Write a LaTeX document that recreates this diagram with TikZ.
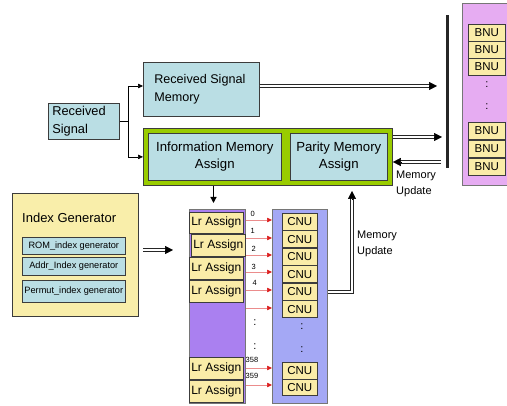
\documentclass[tikz,border=0pt]{standalone}
\usepackage{fontspec}
\setmainfont{Liberation Sans}
\usetikzlibrary{arrows.meta,calc}
\definecolor{lblue}{RGB}{186,222,228}
\definecolor{lgreen}{RGB}{153,204,0}
\definecolor{lyel}{RGB}{249,238,170}
\definecolor{byel}{RGB}{250,236,168}
\definecolor{lrpurp}{RGB}{170,128,240}
\definecolor{cnublue}{RGB}{164,168,245}
\definecolor{bnupink}{RGB}{230,172,242}
\definecolor{pinkline}{RGB}{235,140,140}
\definecolor{arrred}{RGB}{220,30,30}
\definecolor{edge}{RGB}{60,60,60}
\newcommand{\dbarr}[2]{\draw[dbl, shorten >=6pt] #1 -- #2; \draw[dtip] ($#2!8pt!#1$) -- #2;}
\begin{document}
\begin{tikzpicture}[x=1pt,y=-1pt,
  box/.style={draw=edge, line width=0.6pt, fill=lblue, inner sep=0pt, anchor=north west},
  ybox/.style={draw=edge, line width=0.6pt, fill=byel, inner sep=0pt, anchor=north west},
  panel/.style={draw=edge!70, line width=0.6pt, inner sep=0pt, anchor=north west},
  dbl/.style={draw=black!85, double=white, double distance=2.2pt, line width=1pt},
  dtip/.style={line width=0.5pt, -{Triangle[length=8pt,width=8pt]}},
  thin/.style={draw=black, line width=0.6pt},
  thintip/.style={thin, -{Triangle[length=5pt,width=4.5pt]}},
  redarr/.style={draw=pinkline, line width=0.5pt, -{Triangle[length=5pt,width=4.5pt,color=arrred]}},
  lbl/.style={font=\fontsize{7.5}{8}\selectfont, inner sep=0pt, anchor=west},
  dots/.style={font=\fontsize{11}{11}\selectfont, inner sep=0pt},
  lrbox/.style={ybox, minimum width=54, font=\fontsize{12}{14}\selectfont},
  cnubox/.style={ybox, minimum width=35, minimum height=17, font=\fontsize{11.5}{13}\selectfont},
  bnubox/.style={ybox, minimum width=37, minimum height=17, font=\fontsize{11.5}{13}\selectfont},
  ibox/.style={box, minimum width=103, font=\fontsize{9.2}{10}\selectfont}
]
\useasboundingbox (0,0) rectangle (507,406);

% top part
\node[box, minimum width=71, minimum height=36, text width=63, align=flush left,
      font=\fontsize{12.8}{18}\selectfont] (rs) at (48,103) {Received\\Signal};
\node[box, minimum width=116, minimum height=54, text width=94, align=flush left,
      font=\fontsize{12.6}{18}\selectfont] (rsm) at (143,62) {Received Signal\\Memory};
\node[panel, draw=edge, line width=0.8pt, fill=lgreen, minimum width=249, minimum height=57] (grn) at (143,128) {};
\node[box, minimum width=133, minimum height=47, align=center,
      font=\fontsize{13.2}{17}\selectfont] (ima) at (148,133) {Information Memory\\Assign};
\node[box, minimum width=97, minimum height=47, align=center,
      font=\fontsize{13.2}{17}\selectfont] (pma) at (290,133) {Parity Memory\\Assign};

\coordinate (sp) at (128,121);
\draw[thin] (rs.east |- sp) -- (sp);
\draw[thintip] (sp) |- (rsm.west |- 0,86);
\draw[thintip] (sp) |- (grn.west);

\node[fill=black!85, minimum width=3, minimum height=153, inner sep=0pt, anchor=north] (bar) at (447,15) {};
\coordinate (t1) at (437,86);
\coordinate (t2) at (442,137);
\coordinate (t3) at (441,162);
\dbarr{(rsm.east |- t1)}{(t1)}
\dbarr{(grn.east |- t2)}{(t2)}
\dbarr{(t3)}{(grn.east |- t3)}
\node[inner sep=0pt, anchor=north west, align=left, font=\fontsize{11}{16}\selectfont] (mu1) at (396,170.5) {Memory\\Update};

% BNU panel
\node[panel, fill=bnupink, minimum width=50, minimum height=182] (bnup) at (462,3) {};
\node[bnubox] (b1) at (468,24) {BNU};
\node[bnubox] (b2) at (468,41) {BNU};
\node[bnubox] (b3) at (468,58) {BNU};
\node[dots] (bd1) at (487,85) {:};
\node[dots] (bd2) at (487,107) {:};
\node[bnubox] (b4) at (468,122) {BNU};
\node[bnubox] (b5) at (468,140) {BNU};
\node[bnubox] (b6) at (468,158) {BNU};

% Index generator
\node[panel, draw=edge, fill=lyel, minimum width=126, minimum height=123] (ig) at (12,193) {};
\node[inner sep=0pt, anchor=west, font=\fontsize{13}{15}\selectfont] (igt) at (22,218) {Index Generator};
\node[ibox, minimum height=17] (rom) at (22,237) {ROM\_index generator};
\node[ibox, minimum height=18] (addr) at (22,257) {Addr\_Index generator};
\node[ibox, minimum height=22] (perm) at (22,280) {Permut\_index generator};
\coordinate (a4s) at (143,250);
\coordinate (a4e) at (173,250);
\dbarr{(a4s)}{(a4e)}

% Lr column
\node[panel, fill=lrpurp, minimum width=56, minimum height=194] (lrcol) at (189,209) {};
\node[lrbox, minimum height=21] (lr0) at (189,212) {Lr Assign};
\node[lrbox, minimum height=22] (lr1) at (191,234.5) {Lr Assign};
\node[lrbox, minimum height=22] (lr2) at (189,257) {Lr Assign};
\node[lrbox, minimum height=22] (lr3) at (189,280.5) {Lr Assign};
\node[lrbox, minimum height=22.5] (lr4) at (189,357) {Lr Assign};
\node[lrbox, minimum height=22] (lr5) at (189,380) {Lr Assign};

% CNU column
\node[panel, fill=cnublue, minimum width=55, minimum height=194] (cnucol) at (272,209) {};
\node[cnubox] (c1) at (282,213) {CNU};
\node[cnubox] (c2) at (282,230.5) {CNU};
\node[cnubox] (c3) at (282,248) {CNU};
\node[cnubox] (c4) at (282,265.5) {CNU};
\node[cnubox] (c5) at (282,283) {CNU};
\node[cnubox] (c6) at (282,300.5) {CNU};
\node[dots] (cd1) at (302,327) {:};
\node[dots] (cd2) at (302,350) {:};
\node[cnubox] (c7) at (282,362) {CNU};
\node[cnubox, minimum height=16] (c8) at (282,379) {CNU};

% red connectors
\foreach \yy/\nm in {220/r0,238/r1,255/r2,272/r3,290/r4,308/r5,368/r6,385/r7}{
  \coordinate (\nm) at (258,\yy);
  \draw[redarr] (lrcol.east |- \nm) -- (cnucol.west |- \nm);
}
\node[lbl] (n0) at (250.5,213.5) {0};
\node[lbl] (n1) at (250.5,230.5) {1};
\node[lbl] (n2) at (251.5,249) {2};
\node[lbl] (n3) at (251.5,266.5) {3};
\node[lbl] (n4) at (252.5,283) {4};
\node[lbl] (n358) at (245.5,360) {358};
\node[lbl] (n359) at (245.5,375.5) {359};
\node[dots] (ld1) at (255,323) {:};
\node[dots] (ld2) at (255,347) {:};

% info -> Lr column
\coordinate (dn) at (213.5,203);
\draw[line width=1.3pt, -{Triangle[length=6pt,width=6pt]}] (dn |- grn.south) -- (dn);

% memory update from CNU
\coordinate (mu) at (352,292);
\coordinate (mut) at (352,191);
\draw[dbl, shorten >=6pt] (cnucol.east |- mu) -- (mu) -- (mut);
\draw[dtip] ($(mut)+(0,8)$) -- (mut);
\node[inner sep=0pt, anchor=north west, align=left, font=\fontsize{11}{16}\selectfont] (mu2) at (357,231) {Memory\\Update};
\end{tikzpicture}
\end{document}
